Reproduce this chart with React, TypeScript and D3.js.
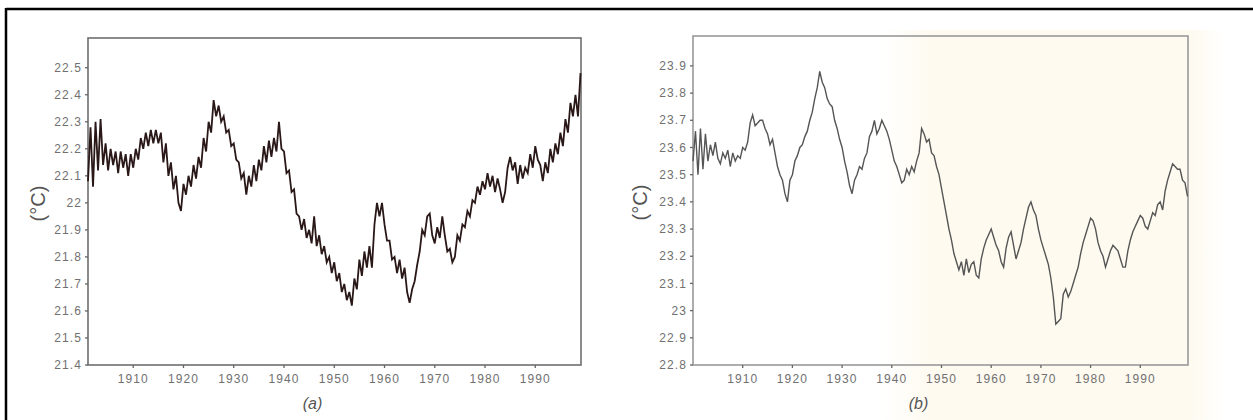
import React from "react";
import * as d3 from "d3";

// (a) half-yearly values, 1901.0 .. 1999.0
const tempA = [
  22.08, 22.28, 22.06, 22.3, 22.12, 22.31, 22.14, 22.22, 22.12, 22.2,
  22.14, 22.19, 22.11, 22.19, 22.13, 22.18, 22.1, 22.18, 22.13, 22.2,
  22.16, 22.24, 22.2, 22.26, 22.21, 22.27, 22.22, 22.27, 22.22, 22.26,
  22.15, 22.22, 22.1, 22.15, 22.05, 22.1, 22.0, 21.97, 22.07, 22.03,
  22.1, 22.06, 22.14, 22.09, 22.17, 22.13, 22.24, 22.19, 22.3, 22.26,
  22.38, 22.32, 22.36, 22.3, 22.32, 22.26, 22.27, 22.21, 22.22, 22.16,
  22.15, 22.09, 22.11, 22.03, 22.1, 22.06, 22.14, 22.08, 22.16, 22.12,
  22.21, 22.15, 22.23, 22.17, 22.24, 22.19, 22.3, 22.2, 22.19, 22.11,
  22.12, 22.04, 22.05, 21.96, 21.95, 21.9, 21.94, 21.87, 21.9, 21.85,
  21.95, 21.84, 21.88, 21.81, 21.84, 21.78, 21.8, 21.74, 21.78, 21.71,
  21.74, 21.67, 21.7, 21.64, 21.67, 21.62, 21.72, 21.68, 21.79, 21.73,
  21.82, 21.76, 21.84, 21.76, 21.92, 22.0, 21.95, 22.0, 21.92, 21.86,
  21.86, 21.79, 21.8, 21.74, 21.79, 21.72, 21.76, 21.67, 21.63, 21.68,
  21.71, 21.77, 21.82, 21.9, 21.88, 21.95, 21.96, 21.88, 21.85, 21.91,
  21.87, 21.95, 21.88, 21.82, 21.83, 21.78, 21.8, 21.88, 21.86, 21.92,
  21.91, 21.97, 21.95, 22.01, 22.0, 22.06, 22.03, 22.08, 22.05, 22.11,
  22.06, 22.1, 22.04, 22.09, 22.05, 22.0, 22.04, 22.13, 22.17, 22.12,
  22.15, 22.07, 22.14, 22.09, 22.13, 22.11, 22.18, 22.13, 22.21, 22.16,
  22.14, 22.08, 22.15, 22.11, 22.2, 22.15, 22.22, 22.18, 22.26, 22.21,
  22.31, 22.26, 22.37, 22.32, 22.4, 22.32, 22.48,
];

// (b) half-yearly values, 1900.0 .. 1999.5
const tempB = [
  23.55, 23.66, 23.5, 23.67, 23.52, 23.65, 23.55, 23.61, 23.57, 23.62,
  23.56, 23.54, 23.58, 23.56, 23.59, 23.53, 23.58, 23.55, 23.57, 23.56,
  23.6, 23.59, 23.62, 23.69, 23.72, 23.68, 23.69, 23.7, 23.7, 23.67,
  23.65, 23.61, 23.63, 23.58, 23.53, 23.5, 23.48, 23.43, 23.4, 23.48,
  23.5, 23.55, 23.57, 23.6, 23.61, 23.64, 23.66, 23.7, 23.73, 23.78,
  23.82, 23.88, 23.84, 23.82, 23.78, 23.76, 23.75, 23.7, 23.67, 23.63,
  23.6, 23.55, 23.51, 23.46, 23.43, 23.48, 23.5, 23.53, 23.52, 23.56,
  23.58, 23.64, 23.66, 23.7, 23.65, 23.67, 23.7, 23.68, 23.66, 23.63,
  23.59, 23.55, 23.53, 23.5, 23.47, 23.48, 23.52, 23.5, 23.53, 23.51,
  23.55, 23.58, 23.67, 23.65, 23.62, 23.63, 23.58, 23.57, 23.53, 23.5,
  23.45, 23.4, 23.35, 23.3, 23.26, 23.21, 23.18, 23.15, 23.18, 23.13,
  23.19, 23.14, 23.17, 23.18, 23.13, 23.12, 23.19, 23.23, 23.26, 23.28,
  23.3, 23.27, 23.24, 23.22, 23.18, 23.16, 23.23, 23.27, 23.29, 23.24,
  23.19, 23.22, 23.25, 23.3, 23.34, 23.38, 23.4, 23.37, 23.35, 23.3,
  23.26, 23.23, 23.2, 23.17, 23.12, 23.05, 22.95, 22.96, 22.97, 23.06,
  23.08, 23.05, 23.07, 23.1, 23.13, 23.16, 23.21, 23.25, 23.28, 23.31,
  23.34, 23.33, 23.3, 23.25, 23.22, 23.2, 23.16, 23.19, 23.22, 23.24,
  23.23, 23.22, 23.19, 23.16, 23.16, 23.22, 23.26, 23.29, 23.31, 23.33,
  23.35, 23.34, 23.31, 23.3, 23.33, 23.36, 23.35, 23.39, 23.4, 23.37,
  23.44, 23.48, 23.51, 23.54, 23.53, 23.52, 23.52, 23.48, 23.47, 23.42,
];

const yearsA = tempA.map((_, i) => 1901 + i / 2);
const yearsB = tempB.map((_, i) => 1900 + i / 2);

const xTicks = [1910, 1920, 1930, 1940, 1950, 1960, 1970, 1980, 1990];
const yTicksA = [21.4, 21.5, 21.6, 21.7, 21.8, 21.9, 22, 22.1, 22.2, 22.3, 22.4, 22.5];
const yTicksB = [22.8, 22.9, 23, 23.1, 23.2, 23.3, 23.4, 23.5, 23.6, 23.7, 23.8, 23.9];

const tickFont = "'Liberation Sans', Arial, sans-serif";

function Panel(props: any) {
  const { years, values, box, xDomain, yDomain, yTicks, caption, lineColor, lineWidth, labelX, frame } = props;
  const x = d3.scaleLinear().domain(xDomain).range([box.left, box.right]);
  const y = d3.scaleLinear().domain(yDomain).range([box.bottom, box.top]);
  const line = d3
    .line<number>()
    .x((_, i) => x(years[i]))
    .y((d) => y(d));

  return (
    <g>
      <rect
        x={box.left}
        y={box.top}
        width={box.right - box.left}
        height={box.bottom - box.top}
        fill="none"
        stroke={frame}
        strokeWidth={1.6}
      />
      {yTicks.map((t: number) => (
        <g key={"y" + t}>
          <line x1={box.left - 3} x2={box.left} y1={y(t)} y2={y(t)} stroke="#666" strokeWidth={1.3} />
          <text
            x={box.left - 6}
            y={y(t)}
            dy="0.35em"
            textAnchor="end"
            fontSize={12}
            letterSpacing={1.1}
            fontFamily={tickFont}
            fill="#707070"
          >
            {String(+t.toFixed(1))}
          </text>
        </g>
      ))}
      {xTicks.map((t) => (
        <g key={"x" + t}>
          <line x1={x(t)} x2={x(t)} y1={box.bottom} y2={box.bottom + 3} stroke="#666" strokeWidth={1.3} />
          <text
            x={x(t)}
            y={box.bottom + 18}
            textAnchor="middle"
            fontSize={12}
            letterSpacing={1.1}
            fontFamily={tickFont}
            fill="#707070"
          >
            {t}
          </text>
        </g>
      ))}
      <path d={line(values) || ""} fill="none" stroke={lineColor} strokeWidth={lineWidth} strokeLinejoin="miter" />
      <text
        transform={`translate(${labelX},${(box.top + box.bottom) / 2 + 2}) rotate(-90)`}
        textAnchor="middle"
        dy="0.35em"
        fontSize={20}
        fontFamily={tickFont}
        fill="#555"
      >
        (°C)
      </text>
      <text
        x={(box.left + box.right) / 2 - 22}
        y={409}
        textAnchor="middle"
        fontSize={16}
        fontStyle="italic"
        fontFamily={tickFont}
        fill="#555"
      >
        {caption}
      </text>
    </g>
  );
}

export default function App() {
  return (
    <svg
      width={1253}
      height={420}
      style={{ position: "absolute", left: 0, top: 0, background: "#fff" }}
    >
      <defs>
        <linearGradient id="cream" x1="0" x2="1" y1="0" y2="0">
          <stop offset="0" stopColor="#fefaf0" stopOpacity={0} />
          <stop offset="0.15" stopColor="#fefaf0" stopOpacity={1} />
          <stop offset="0.9" stopColor="#fefaf0" stopOpacity={1} />
          <stop offset="1" stopColor="#fefaf0" stopOpacity={0} />
        </linearGradient>
      </defs>
      <rect x={880} y={30} width={345} height={390} fill="url(#cream)" />
      <line x1={6} x2={1253} y1={9} y2={9} stroke="#000" strokeWidth={2.5} />
      <line x1={6} x2={6} y1={8} y2={420} stroke="#000" strokeWidth={2.5} />
      <Panel
        years={yearsA}
        values={tempA}
        box={{ left: 88, right: 581, top: 38, bottom: 365 }}
        xDomain={[1901, 1999.1]}
        yDomain={[21.4, 22.61]}
        yTicks={yTicksA}
        caption="(a)"
        lineColor="#2a1818"
        lineWidth={1.8}
        labelX={38}
        frame="#6e6e6e"
      />
      <Panel
        years={yearsB}
        values={tempB}
        box={{ left: 693, right: 1188, top: 36, bottom: 365 }}
        xDomain={[1900, 1999.6]}
        yDomain={[22.8, 24.01]}
        yTicks={yTicksB}
        caption="(b)"
        lineColor="#555"
        lineWidth={1.4}
        labelX={640}
        frame="#999"
      />
    </svg>
  );
}
